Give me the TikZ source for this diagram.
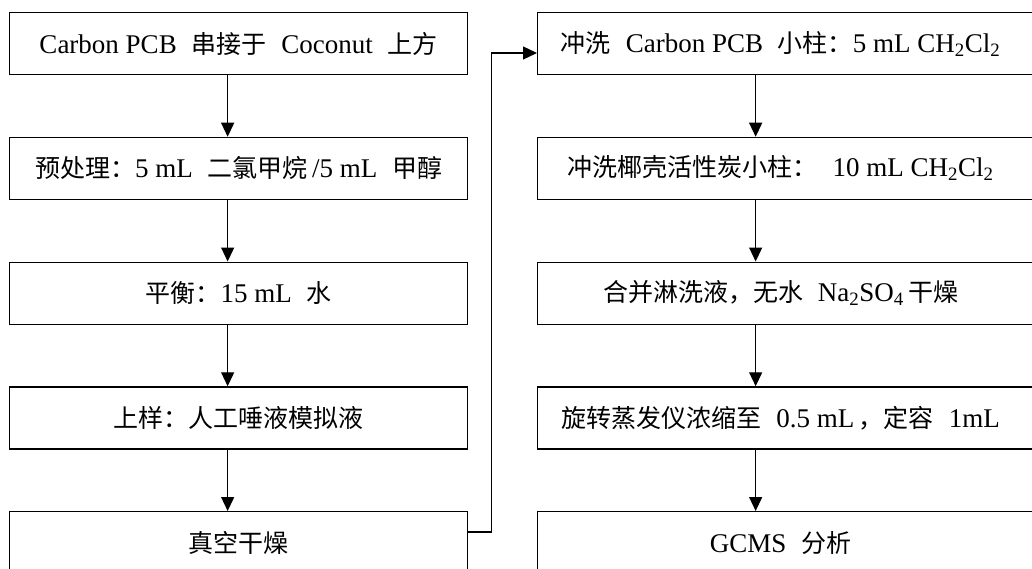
\documentclass[tikz,border=0pt]{standalone}
\usepackage{fontspec}
\setmainfont{Liberation Serif}[Scale=1.08]
\newfontfamily\cjk{Noto Sans CJK SC}
\usetikzlibrary{arrows.meta}
\newcommand\zh[1]{{\cjk #1}}
\newcommand\gp{\hspace{0.55em}}
\begin{document}
\begin{tikzpicture}[x=1pt,y=-1pt,
  box/.style={draw, line width=1.3pt, minimum height=62pt, inner sep=0pt,
    font=\fontsize{25}{30}\selectfont, anchor=north west},
  lbox/.style={box, minimum width=458pt},
  rbox/.style={box, minimum width=500pt},
  arr/.style={line width=1.3pt, -{Triangle[length=14pt,width=13pt]}}]
\clip (0,0) rectangle (1032,569);
\fill[white] (0,0) rectangle (1032,569);
% left column
\node[lbox] (l1) at (9,12) {Carbon PCB\gp\zh{串接于}\gp Coconut\gp\zh{上方}};
\node[lbox] (l2) at (9,136.75) {\zh{预处理：}5 mL\gp\zh{二氯甲烷}\,/5 mL\gp\zh{甲醇}};
\node[lbox] (l3) at (9,261.5) {\zh{平衡：}15 mL\gp\zh{水}};
\node[lbox] (l4) at (9,386.25) {\zh{上样：人工唾液模拟液}};
\node[lbox] (l5) at (9,511) {\zh{真空干燥}};
% right column
\node[rbox] (r1) at (537,12) {\zh{冲洗}\gp Carbon PCB\gp\zh{小柱：}5 mL CH\textsubscript{2}Cl\textsubscript{2}\hspace*{14pt}};
\node[rbox] (r2) at (537,136.75) {\zh{冲洗椰壳活性炭小柱：}\gp 10 mL CH\textsubscript{2}Cl\textsubscript{2}\hspace*{14pt}};
\node[rbox] (r3) at (537,261.5) {\zh{合并淋洗液，无水}\gp Na\textsubscript{2}SO\textsubscript{4}\,\zh{干燥}\hspace*{14pt}};
\node[rbox] (r4) at (537,386.25) {\zh{旋转蒸发仪浓缩至}\gp 0.5 mL\,\zh{，定容}\gp 1mL\hspace*{14pt}};
\node[rbox] (r5) at (537,511) {GCMS\gp\zh{分析}\hspace*{14pt}};
% arrows
\foreach \a/\b in {l1/l2,l2/l3,l3/l4,l4/l5}
  \draw[arr] ([xshift=-11pt]\a.south) -- ([xshift=-11pt]\b.north);
\foreach \a/\b in {r1/r2,r2/r3,r3/r4,r4/r5}
  \draw[arr] ([xshift=-32pt]\a.south) -- ([xshift=-32pt]\b.north);
\draw[arr] ([yshift=-21pt]l5.north east) -- ++(23,0) |- ([yshift=-41pt]r1.north west);
\end{tikzpicture}
\end{document}
